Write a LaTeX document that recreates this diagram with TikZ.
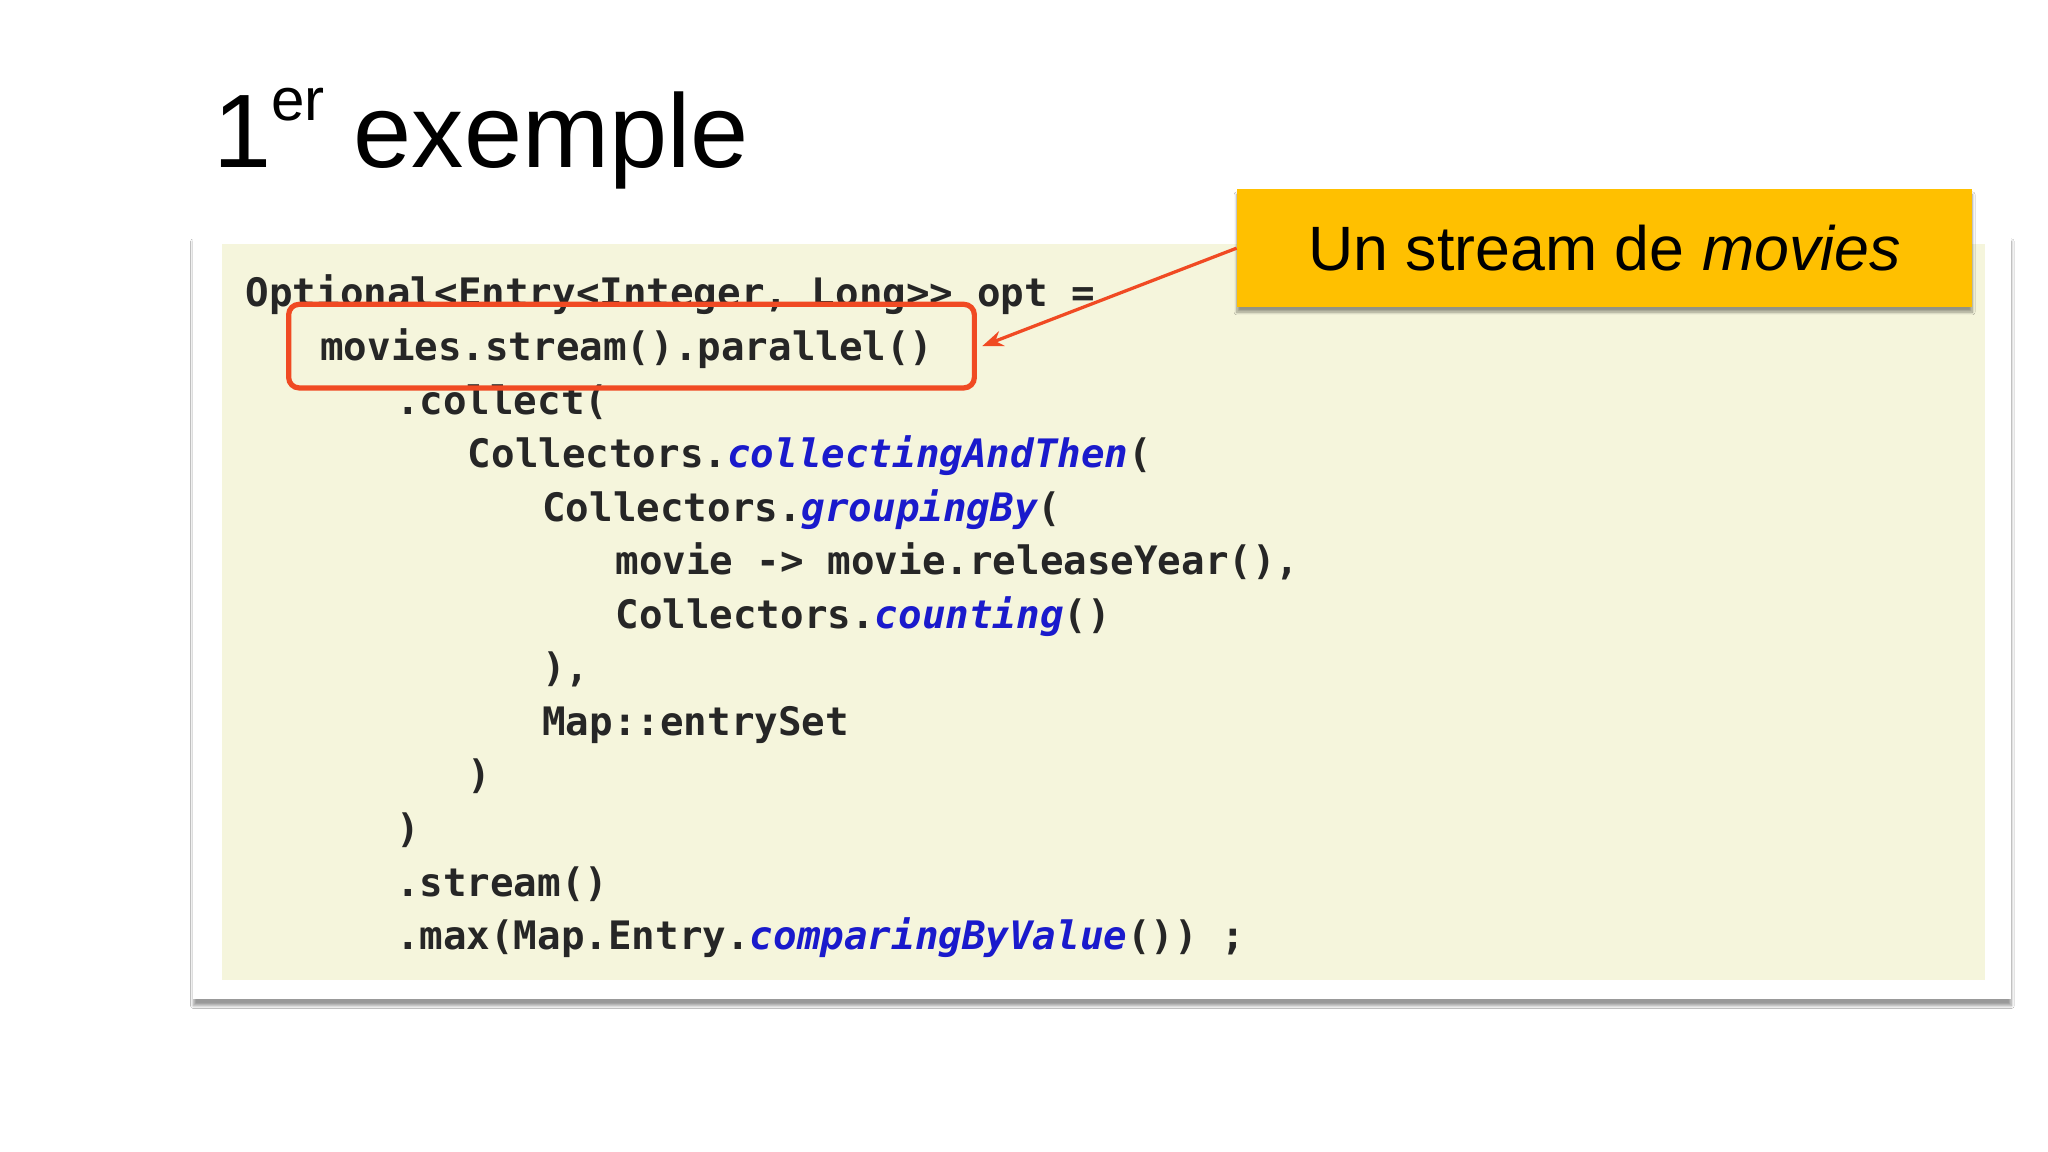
\documentclass[tikz,border=0pt]{standalone}
\usepackage{fontspec}
\setmainfont{Liberation Sans}
\setmonofont{DejaVu Sans Mono}
\usetikzlibrary{shadows.blur,arrows.meta}
\definecolor{beige}{HTML}{F5F5DC}
\definecolor{codeblue}{HTML}{1A1ACC}
\definecolor{callred}{HTML}{F04A23}
\definecolor{gold}{HTML}{FFC000}
\tikzset{code/.style={anchor=base west,inner sep=0pt,font=\ttfamily\bfseries\fontsize{30}{30}\selectfont,text=black!85},
 m/.style={},}
\newcommand{\mi}[1]{\textcolor{codeblue}{\itshape #1}}
\begin{document}
\begin{tikzpicture}[x=1pt,y=-1pt]
\useasboundingbox (0,0) rectangle (1568,882);
\fill[white] (0,0) rectangle (1568,882);
\node[anchor=base west,inner sep=0pt,font=\fontsize{80}{80}\selectfont] (title) at (163,128) {1\raisebox{0.45em}{\fontsize{46}{46}\selectfont er} exemple};
\node[fill=white,minimum width=1392pt,minimum height=585pt,inner sep=0pt,blur shadow={shadow xshift=0pt,shadow yshift=-5pt,shadow blur steps=8}] (card) at (844,472.5) {};
\fill[beige] (170,187) rectangle (1520,750);
\node[code] (l1) at (188,235) {Optional<Entry<Integer, Long>> opt =};
\node[code] (l2) at (245,276) {movies.stream().parallel()};
\node[code] (l3) at (303,317) {.collect(};
\node[code] (l4) at (358,358) {Collectors.\mi{collectingAndThen}(};
\node[code] (l5) at (415,399) {Collectors.\mi{groupingBy}(};
\node[code] (l6) at (471,440) {movie -> movie.releaseYear(),};
\node[code] (l7) at (471,481) {Collectors.\mi{counting}()};
\node[code] (l8) at (415,522) {),};
\node[code] (l9) at (415,563) {Map::entrySet};
\node[code] (l10) at (358,604) {)};
\node[code] (l11) at (303,645) {)};
\node[code] (l12) at (303,686) {.stream()};
\node[code] (l13) at (303,727) {.max(Map.Entry.\mi{comparingByValue}()) ;};
\node[draw=callred,line width=4pt,rounded corners=8pt,minimum width=525pt,minimum height=64pt,inner sep=0pt] (hl) at (483.5,265) {};
\node[fill=gold,minimum width=563pt,minimum height=90pt,inner sep=0pt,blur shadow={shadow xshift=0pt,shadow yshift=-4pt,shadow blur steps=8},font=\fontsize{48}{48}\selectfont] (call) at (1228.5,190) {Un stream de \textit{movies}};
\draw[callred,line width=2.5pt,-{Stealth[length=16pt,width=12pt]}] (call.west) -- ([xshift=4pt]hl.east);
\end{tikzpicture}
\end{document}
